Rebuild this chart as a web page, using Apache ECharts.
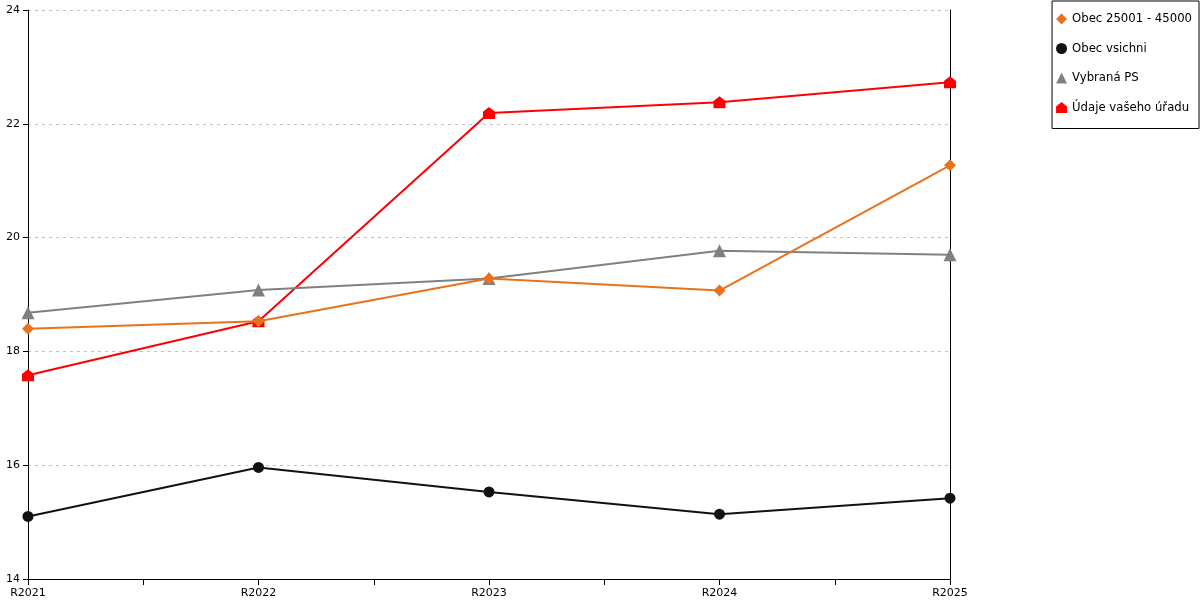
<!DOCTYPE html>
<html>
<head>
<meta charset="utf-8">
<script src="https://cdn.jsdelivr.net/npm/echarts@6/dist/echarts.min.js"></script>
<style>
  html, body { margin: 0; padding: 0; background: #fff; }
  #chart { width: 1200px; height: 600px; }
</style>
</head>
<body>
<div id="chart"></div>
<script>
var categories = ["R2021", "R2022", "R2023", "R2024", "R2025"];
var seriesNames = ["Obec 25001 - 45000", "Obec vsichni", "Vybraná PS", "Údaje vašeho úřadu"];
var obec25001 = [18.40, 18.53, 19.28, 19.07, 21.27];
var obecVsichni = [15.10, 15.96, 15.53, 15.14, 15.42];
var vybranaPS = [18.68, 19.08, 19.28, 19.77, 19.70];
var udajeUradu = [17.58, 18.53, 22.19, 22.38, 22.73];
var yTicks = [14, 16, 18, 20, 22, 24];

// little "house" marker used for the office series
var housePath = "path://M0,4 L5,0 L10,4 L10,10 L0,10 Z";
var colors = ["#e8731c", "#111111", "#808080", "#ff0000"];
var symbols = ["diamond", "circle", "triangle", housePath];
var sizes = [12, 11, 13, 12];
var values = [obec25001, obecVsichni, vybranaPS, udajeUradu];

function toPoints(arr) {
  return arr.map(function (v, i) { return [i, v]; });
}

var chartDom = document.getElementById("chart");
var myChart = echarts.init(chartDom);
var option;

option = {
  animation: false,
  textStyle: { fontFamily: "DejaVu Sans" },
  grid: { left: 28, right: 250, top: 10, bottom: 21, containLabel: false },
  legend: {
    orient: "vertical",
    right: 1,
    top: 1,
    padding: [12, 7, 15, 4],
    itemGap: 17.5,
    itemWidth: 11,
    itemHeight: 11,
    borderColor: "#000",
    borderWidth: 1,
    textStyle: { fontSize: 11.7, color: "#000", fontFamily: "DejaVu Sans" },
    data: seriesNames.map(function (n, i) {
      return { name: n, icon: symbols[i], itemStyle: { color: colors[i] } };
    })
  },
  xAxis: {
    type: "value",
    min: 0,
    max: categories.length - 1,
    interval: 0.5,
    axisLine: { show: true, lineStyle: { color: "#000" } },
    axisTick: { show: true, length: 6, lineStyle: { color: "#000" } },
    splitLine: { show: false },
    axisLabel: {
      color: "#000",
      fontSize: 11,
      margin: 9,
      formatter: function (v) {
        return Number.isInteger(v) ? categories[v] : "";
      }
    }
  },
  yAxis: [
    {
      type: "value",
      min: yTicks[0],
      max: yTicks[yTicks.length - 1],
      interval: 2,
      axisLine: { show: true, lineStyle: { color: "#000" } },
      axisTick: { show: true, length: 5, lineStyle: { color: "#000" } },
      axisLabel: { color: "#000", fontSize: 11, margin: 8 },
      splitLine: { show: true, lineStyle: { color: "#c0c0c0", type: [3, 4] } }
    },
    {
      type: "value",
      position: "right",
      min: yTicks[0],
      max: yTicks[yTicks.length - 1],
      interval: 2,
      axisLine: { show: true, lineStyle: { color: "#000" } },
      axisTick: { show: false },
      axisLabel: { show: false },
      splitLine: { show: false }
    }
  ],
  series: seriesNames.map(function (n, i) {
    return {
      name: n,
      type: "line",
      data: toPoints(values[i]),
      symbol: symbols[i],
      symbolSize: sizes[i],
      showAllSymbol: true,
      lineStyle: { color: colors[i], width: 2 },
      itemStyle: { color: colors[i] },
      z: 10 - i
    };
  })
};

option && myChart.setOption(option);
</script>
</body>
</html>
